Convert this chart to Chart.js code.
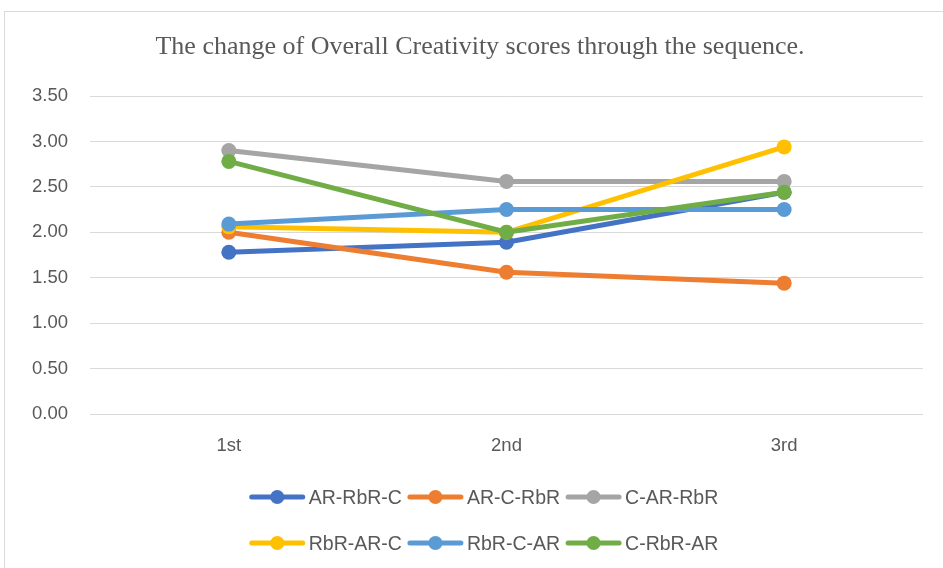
<!DOCTYPE html>
<html>
<head>
<meta charset="utf-8">
<script src="https://cdn.jsdelivr.net/npm/chart.js@4"></script>
<style>
    body { margin: 0; background: #fff; overflow: hidden; }
    #wrap { position: relative; width: 943px; height: 568px; }
    #frame { position: absolute; left: 4px; top: 11px; width: 950px; height: 570px; border: 1px solid #d9d9d9; }
    canvas { position: absolute; left: 0; top: 0; }
</style>
</head>
<body>
<div id="wrap">
    <div id="frame"></div>
    <canvas id="line" width="943" height="568"></canvas>
</div>
<script>
const chartTitle = 'The change of Overall Creativity scores through the sequence.';
const categories = ['1st', '2nd', '3rd'];
const seriesNames = ['AR-RbR-C', 'AR-C-RbR', 'C-AR-RbR', 'RbR-AR-C', 'RbR-C-AR', 'C-RbR-AR'];
const arRbrC = [1.78, 1.89, 2.44];
const arCRbr = [2.00, 1.56, 1.44];
const cArRbr = [2.90, 2.56, 2.56];
const rbrArC = [2.06, 2.00, 2.94];
const rbrCAr = [2.09, 2.25, 2.25];
const cRbrAr = [2.78, 2.00, 2.44];
const seriesColors = ['#4472C4', '#ED7D31', '#A5A5A5', '#FFC000', '#5B9BD5', '#70AD47'];
const yTicks = [0, 0.5, 1, 1.5, 2, 2.5, 3, 3.5];

const allSeries = [arRbrC, arCRbr, cArRbr, rbrArC, rbrCAr, cRbrAr];
const textColor = '#595959';

// titre + legende dessines a la main (2 lignes de 3 comme dans Excel)
const excelDecor = {
    id: 'excelDecor',
    afterDraw(chart) {
        const ctx = chart.ctx;
        ctx.save();
        ctx.fillStyle = textColor;
        ctx.font = '26px "Liberation Serif"';
        ctx.textAlign = 'center';
        ctx.textBaseline = 'alphabetic';
        ctx.fillText(chartTitle, 480, 54);

        ctx.font = '19.5px "Liberation Sans"';
        ctx.textAlign = 'left';
        ctx.textBaseline = 'middle';
        const lineLen = 55, gapTxt = 4, gapItem = 6;
        const rows = [[0, 1, 2], [3, 4, 5]];
        const rowY = [497, 543];
        rows.forEach(function (row, r) {
            let total = 0;
            row.forEach(function (i, k) {
                total += lineLen + gapTxt + ctx.measureText(seriesNames[i]).width + (k < row.length - 1 ? gapItem : 0);
            });
            let x = 484 - total / 2;
            const y = rowY[r];
            row.forEach(function (i) {
                const ds = chart.data.datasets[i];
                ctx.strokeStyle = ds.borderColor;
                ctx.lineWidth = 5;
                ctx.lineCap = 'round';
                ctx.beginPath();
                ctx.moveTo(x + 2, y);
                ctx.lineTo(x + lineLen - 2, y);
                ctx.stroke();
                ctx.fillStyle = ds.backgroundColor;
                ctx.beginPath();
                ctx.arc(x + lineLen / 2, y, 7, 0, Math.PI * 2);
                ctx.fill();
                ctx.fillStyle = textColor;
                ctx.fillText(seriesNames[i], x + lineLen + gapTxt, y + 1.5);
                x += lineLen + gapTxt + ctx.measureText(seriesNames[i]).width + gapItem;
            });
        });
        ctx.restore();
    }
};

const line = document.getElementById('line').getContext('2d');
const myChart = new Chart(line, {
    type: 'line',
    data: {
        labels: categories,
        datasets: allSeries.map(function (vals, i) {
            return {
                label: seriesNames[i],
                data: vals,
                borderColor: seriesColors[i],
                backgroundColor: seriesColors[i],
                borderWidth: 5,
                pointRadius: 7.5,
                pointHoverRadius: 7.5,
                pointBorderWidth: 0,
                tension: 0,
                order: allSeries.length - i
            };
        })
    },
    options: {
        responsive: false,
        animation: false,
        layout: { padding: { left: 0, right: 20, top: 96, bottom: 0 } },
        plugins: {
            legend: { display: false },
            title: { display: false },
            tooltip: { enabled: false }
        },
        scales: {
            x: {
                offset: true,
                grid: { display: false, drawTicks: false },
                border: { display: false },
                ticks: { color: textColor, font: { family: 'Liberation Sans', size: 18.5 }, padding: 21 },
                afterFit: function (scale) { scale.height = 568 - 414; }
            },
            y: {
                min: 0,
                max: 3.5,
                afterBuildTicks: function (scale) { scale.ticks = yTicks.map(function (v) { return { value: v }; }); },
                grid: { color: '#d9d9d9', lineWidth: 1, drawTicks: false },
                border: { display: false },
                ticks: {
                    color: textColor,
                    font: { family: 'Liberation Sans', size: 18.5 },
                    padding: 22,
                    callback: function (v) { return Number(v).toFixed(2); }
                },
                afterFit: function (scale) { scale.width = 90; }
            }
        }
    },
    plugins: [excelDecor]
});
</script>
</body>
</html>
